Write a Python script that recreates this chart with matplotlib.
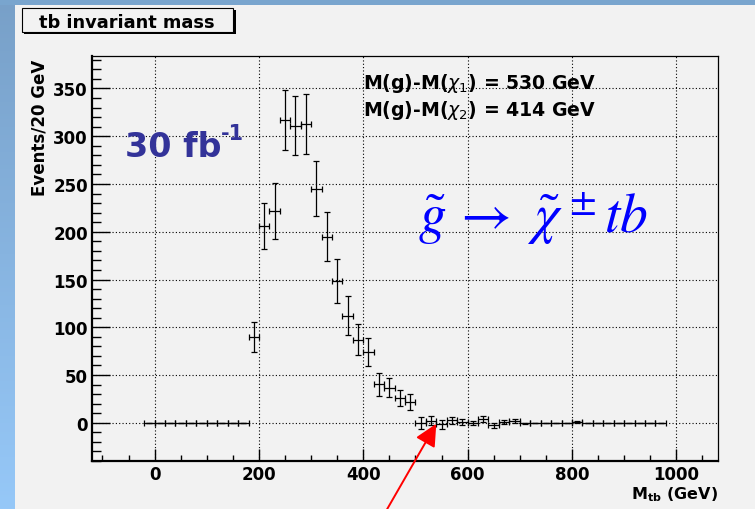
import numpy as np
import matplotlib
matplotlib.use('Agg')
import matplotlib.pyplot as plt
from matplotlib.patches import Rectangle
from matplotlib.ticker import MultipleLocator
from matplotlib.colors import LinearSegmentedColormap

# ---------------- data ----------------
bin_centers = [-10, 10, 30, 50, 70, 90, 110, 130, 150, 170,
               190, 210, 230, 250, 270, 290, 310, 330, 350, 370,
               390, 410, 430, 450, 470, 490, 510, 530, 550, 570,
               590, 610, 630, 650, 670, 690, 710, 730, 750, 770,
               790, 810, 830, 850, 870, 890, 910, 930, 950, 970]
events = [0, 0, 0, 0, 0, 0, 0, 0, 0, 0,
          90, 206, 222, 317, 311, 313, 245, 195, 148, 112,
          87, 74, 40.5, 36.5, 26, 21.5, -0.5, 2.4, -1.7, 2.8,
          1, 0, 4, -2.8, 0.7, 1.7, -0.7, 0, 0, 0,
          0, 1, 0, 0, 0, 0, 0, 0, 0, 0]
errors = [0, 0, 0, 0, 0, 0, 0, 0, 0, 0,
          15.5, 24.5, 29.5, 31, 31, 31.5, 29, 25.5, 23, 20.5,
          16.5, 14.5, 12, 10, 8.7, 8.5, 6.3, 5, 4.4, 3.6,
          3, 2.3, 3.3, 2.3, 2.3, 2, 0.8, 0, 0, 0,
          0, 0.8, 0, 0, 0, 0, 0, 0, 0, 0]
bin_half_width = 10

x_ticks_major = [0, 200, 400, 600, 800, 1000]
y_ticks_major = [0, 50, 100, 150, 200, 250, 300, 350]

title_text = 'tb invariant mass'
ylabel_text = 'Events/20 GeV'
xlabel_text = r'M$_{\mathbf{tb}}$ (GeV)'
lumi_main = '30 fb'
lumi_exp = '-1'
mass_line1 = r'M(g)-M($\chi_1$) = 530 GeV'
mass_line2 = r'M(g)-M($\chi_2$) = 414 GeV'
decay_text = r'$\tilde{g}\,\rightarrow\,\,\tilde{\chi}^{\,\pm}tb$'
arrow_tip = (540, -1)
arrow_tail = (443, -93)

# ---------------- style ----------------
plt.rcParams['font.family'] = ['DejaVu Sans']
plt.rcParams['font.weight'] = 'normal'

W, H = 755, 510
def fx(x):
    return x / W
def fy(y):
    return 1 - y / H

PANEL = '#f2f2f2'
fig = plt.figure(figsize=(W / 100, H / 100), dpi=100, facecolor=PANEL)

# outer blue frame (left gradient strip + top strip)
gax = fig.add_axes([0, 0, fx(14), 1])
grad = np.linspace(0, 1, 256).reshape(-1, 1)
cmap = LinearSegmentedColormap.from_list('bg', ['#96c8f8', '#78a0c8'])
gax.imshow(grad, aspect='auto', cmap=cmap, origin='lower', extent=[0, 1, 0, 1])
gax.axis('off')
fig.add_artist(Rectangle((0, fy(6)), 1, 6 / H, transform=fig.transFigure,
                         facecolor='#79a5ce', edgecolor='none', zorder=5))

# main axes
ax = fig.add_axes([fx(92), fy(462), fx(718 - 92), (462 - 57) / H])
ax.set_facecolor(PANEL)
ax.set_xlim(-120, 1080)
ax.set_ylim(-40, 384)

ax.errorbar(bin_centers, events, xerr=bin_half_width, yerr=errors, fmt='none',
            ecolor='black', elinewidth=0.9, capsize=2.2, capthick=0.9, zorder=3)

ax.set_xticks(x_ticks_major)
ax.set_yticks(y_ticks_major)
ax.xaxis.set_minor_locator(MultipleLocator(50))
ax.yaxis.set_minor_locator(MultipleLocator(10))
ax.tick_params(axis='y', which='major', direction='in', length=13, width=1,
               left=True, right=False, labelsize=12, pad=3)
ax.tick_params(axis='y', which='minor', direction='in', length=6.5, width=1,
               left=True, right=False)
ax.tick_params(axis='x', which='major', direction='in', length=9, width=1,
               bottom=True, top=False, labelsize=12, pad=3)
ax.tick_params(axis='x', which='minor', direction='in', length=4.5, width=1,
               bottom=True, top=False)
for lab in ax.get_xticklabels() + ax.get_yticklabels():
    lab.set_fontweight('bold')

ax.grid(True, which='major', linestyle=(0, (1, 2)), color='black', linewidth=0.8)
ax.set_axisbelow(True)
ax.spines['left'].set_linewidth(1.6)
ax.spines['bottom'].set_linewidth(1.6)
ax.spines['top'].set_linewidth(0.9)
ax.spines['right'].set_linewidth(0.9)
for s in ax.spines.values():
    s.set_color('black')

# axis titles
fig.text(fx(39), fy(60), ylabel_text, rotation=90, ha='center', va='top',
         fontsize=12, fontweight='bold')
fig.text(fx(718), fy(499), xlabel_text, ha='right', va='baseline',
         fontsize=11.5, fontweight='bold')

# title box with shadow
fig.add_artist(Rectangle((fx(24), fy(35)), (236 - 24) / W, (35 - 11) / H,
                         transform=fig.transFigure, facecolor='black',
                         edgecolor='none', zorder=6))
fig.add_artist(Rectangle((fx(22), fy(33)), (233 - 22) / W, (33 - 9) / H,
                         transform=fig.transFigure, facecolor=PANEL,
                         edgecolor='black', linewidth=0.8, zorder=7))
fig.text(fx(127), fy(27.5), title_text, ha='center', va='baseline',
         fontsize=12.8, fontweight='bold', zorder=8)

# annotations
fig.text(fx(125), fy(157), lumi_main, ha='left', va='baseline',
         fontsize=24, fontweight='bold', color='#333399')
fig.text(fx(221), fy(140), lumi_exp, ha='left', va='baseline',
         fontsize=15, fontweight='bold', color='#333399')
fig.text(fx(363), fy(89), mass_line1, ha='left', va='baseline',
         fontsize=13.6, fontweight='bold', color='black')
fig.text(fx(363), fy(116), mass_line2, ha='left', va='baseline',
         fontsize=13.6, fontweight='bold', color='black')
fig.text(fx(418), fy(233), decay_text, ha='left', va='baseline',
         fontsize=40, fontweight='normal', color='#0000ff',
         math_fontfamily='stix')

ax.annotate('', xy=arrow_tip, xycoords='data', xytext=arrow_tail,
            textcoords='data', annotation_clip=False,
            arrowprops=dict(arrowstyle='-|>,head_length=0.45,head_width=0.22',
                            color='#ff0000', lw=1.4, mutation_scale=30,
                            shrinkA=0, shrinkB=0, clip_on=False))

fig.savefig('out.png', dpi=100, facecolor=PANEL)
